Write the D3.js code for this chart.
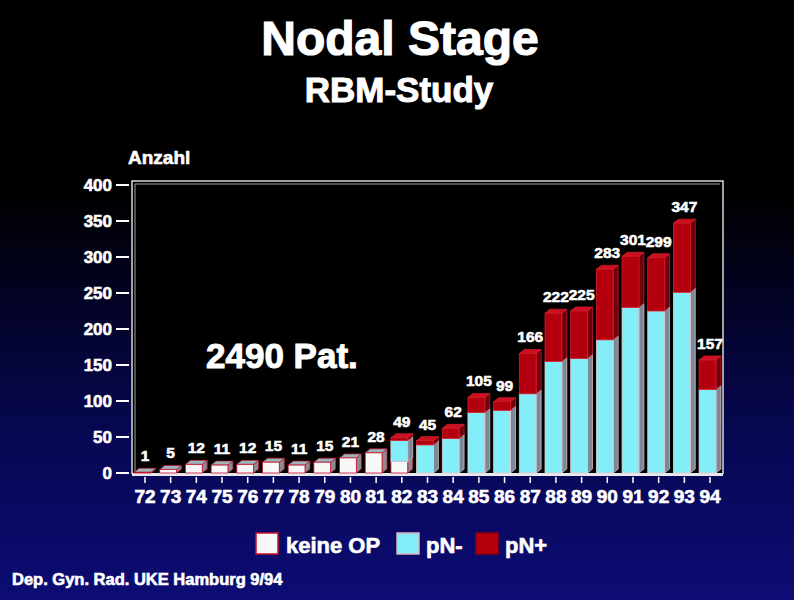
<!DOCTYPE html>
<html>
<head>
<meta charset="utf-8">
<script src="https://cdn.jsdelivr.net/npm/d3@7"></script>
<style>
  body { margin: 0; background: #000; }
  svg text { font-family: "Liberation Sans", Arial, sans-serif; font-weight: bold; fill: #fff;
             stroke: #fff; stroke-width: 0.6px; }
</style>
</head>
<body>
<svg id="chart" width="794" height="600"></svg>
<script>
// Nodal stage per year, RBM study
var years = ["72","73","74","75","76","77","78","79","80","81","82","83","84","85","86","87","88","89","90","91","92","93","94"];
var keineOP = [1, 5, 12, 11, 12, 15, 11, 15, 21, 28, 16, 0, 0, 0, 0, 0, 0, 0, 0, 0, 0, 0, 0];
var pNneg   = [0, 0, 0, 0, 0, 0, 0, 0, 0, 0, 29, 39, 48, 84, 87, 110, 155, 159, 185, 230, 225, 251, 116];
var pNpos   = [0, 0, 0, 0, 0, 0, 0, 0, 0, 0, 4, 6, 14, 21, 12, 56, 67, 66, 98, 71, 74, 96, 41];
var yTicks  = [0, 50, 100, 150, 200, 250, 300, 350, 400];

var series = [
    { name: "keine OP", values: keineOP, front: "#f8f8f8", side: "#8c8c94", top: "#9ab4bc", stroke: "#c8102a" },
    { name: "pN-",      values: pNneg,   front: "#84eef8", side: "#7c8898", top: "#9ccad4", stroke: "#e8c8d0" },
    { name: "pN+",      values: pNpos,   front: "#b4000e", side: "#70000c", top: "#cc1020", stroke: "#d0202c" }
];

var svg = d3.select("#chart");

// background: black fading into navy
var defs = svg.append("defs");
var grad = defs.append("linearGradient").attr("id", "bg").attr("x1", 0).attr("y1", 0).attr("x2", 0).attr("y2", 1);
grad.append("stop").attr("offset", "0%").attr("stop-color", "#000000");
grad.append("stop").attr("offset", "33%").attr("stop-color", "#000002");
grad.append("stop").attr("offset", "72%").attr("stop-color", "#070752");
grad.append("stop").attr("offset", "100%").attr("stop-color", "#0c0c74");
svg.append("rect").attr("width", 794).attr("height", 600).attr("fill", "url(#bg)");

var plotLeft = 132, plotRight = 723, plotTop = 183, plotBottom = 473;
var depth = 5;

var x = d3.scaleBand().domain(years).range([plotLeft, plotRight]).paddingInner(0.15).paddingOuter(0.08);
var y = d3.scaleLinear().domain([0, 400]).range([plotBottom, 185]);

// plot area
svg.append("rect").attr("x", plotLeft).attr("y", plotTop - 2)
    .attr("width", plotRight - plotLeft).attr("height", plotBottom - plotTop + 2)
    .attr("fill", "#000");
svg.append("path")
    .attr("d", "M" + plotLeft + "," + (plotBottom + 1) + "V" + (plotTop - 2) + "H" + plotRight + "V" + (plotBottom + 1))
    .attr("fill", "none").attr("stroke", "#d8d8d8").attr("stroke-width", 1.5);
svg.append("path")
    .attr("d", "M" + (plotLeft + 3) + "," + plotBottom + "V" + (plotTop + 1) + "H" + (plotRight - 3))
    .attr("fill", "none").attr("stroke", "#a0a0a0").attr("stroke-width", 1);
// floor
svg.append("rect").attr("x", plotLeft).attr("y", plotBottom).attr("width", plotRight - plotLeft).attr("height", 3)
    .attr("fill", "#e8e8ee");

// y axis ticks and labels
var yAxis = svg.append("g");
yAxis.selectAll("line").data(yTicks).enter().append("line")
    .attr("x1", 116).attr("x2", 129)
    .attr("y1", function (d) { return y(d); }).attr("y2", function (d) { return y(d); })
    .attr("stroke", "#fff").attr("stroke-width", 2);
yAxis.selectAll("text").data(yTicks).enter().append("text")
    .attr("x", 112).attr("y", function (d) { return y(d) + 6; })
    .attr("text-anchor", "end").attr("font-size", 17)
    .text(function (d) { return d; });

svg.append("text").attr("x", 128).attr("y", 164).attr("font-size", 19).text("Anzahl");

// x axis ticks and labels
var xAxis = svg.append("g");
xAxis.selectAll("line").data(years).enter().append("line")
    .attr("x1", function (d) { return x(d) + x.bandwidth() / 2; })
    .attr("x2", function (d) { return x(d) + x.bandwidth() / 2; })
    .attr("y1", 477).attr("y2", 483)
    .attr("stroke", "#fff").attr("stroke-width", 1.5);
xAxis.selectAll("text").data(years).enter().append("text")
    .attr("x", function (d) { return x(d) + x.bandwidth() / 2; })
    .attr("y", 503).attr("text-anchor", "middle").attr("font-size", 19)
    .text(function (d) { return d; });

// 3D stacked bars
var fw = x.bandwidth() - depth;
var bars = svg.append("g");
years.forEach(function (yr, i) {
    var base = 0;
    series.forEach(function (s) {
        var v = s.values[i];
        if (v <= 0) return;
        var x0 = x(yr), x1 = x0 + fw;
        var y0 = y(base), y1 = y(base + v);
        var g = bars.append("g");
        // right side face
        g.append("path")
            .attr("d", "M" + x1 + "," + y0 + "L" + (x1 + depth) + "," + (y0 - depth + 1) +
                  "L" + (x1 + depth) + "," + (y1 - depth + 1) + "L" + x1 + "," + y1 + "Z")
            .attr("fill", s.side).attr("stroke", s.stroke).attr("stroke-width", 0.7);
        // top face
        g.append("path")
            .attr("d", "M" + x0 + "," + y1 + "L" + (x0 + depth) + "," + (y1 - depth + 1) +
                  "L" + (x1 + depth) + "," + (y1 - depth + 1) + "L" + x1 + "," + y1 + "Z")
            .attr("fill", s.top).attr("stroke", s.stroke).attr("stroke-width", 0.7);
        // front face
        g.append("rect").attr("x", x0).attr("y", y1).attr("width", fw).attr("height", y0 - y1)
            .attr("fill", s.front).attr("stroke", s.stroke).attr("stroke-width", 0.8);
        base += v;
    });
});

// totals above bars
bars.selectAll("text.total").data(years).enter().append("text")
    .attr("class", "total")
    .attr("x", function (d) { return x(d) + x.bandwidth() / 2; })
    .attr("y", function (d, i) { return y(keineOP[i] + pNneg[i] + pNpos[i]) - 11; })
    .attr("text-anchor", "middle").attr("font-size", 15.5)
    .text(function (d, i) { return keineOP[i] + pNneg[i] + pNpos[i]; });

// titles
svg.append("text").attr("x", 400).attr("y", 55).attr("text-anchor", "middle").attr("font-size", 48)
    .style("stroke-width", "1.2px").text("Nodal Stage");
svg.append("text").attr("x", 399).attr("y", 102).attr("text-anchor", "middle").attr("font-size", 35)
    .style("stroke-width", "1px").text("RBM-Study");
svg.append("text").attr("x", 206).attr("y", 368).attr("font-size", 35)
    .style("stroke-width", "1px").text("2490 Pat.");

// legend
var legendItems = [
    { label: "keine OP", color: series[0].front, border: series[0].stroke, x: 256, tx: 286 },
    { label: "pN-",      color: series[1].front, border: "#d8b0c0",        x: 397, tx: 426 },
    { label: "pN+",      color: series[2].front, border: "#900010",        x: 476, tx: 505 }
];
var legend = svg.append("g");
legendItems.forEach(function (d) {
    legend.append("rect").attr("x", d.x).attr("y", 533).attr("width", 22).attr("height", 21)
        .attr("fill", d.color).attr("stroke", d.border).attr("stroke-width", 1.5);
    legend.append("text").attr("x", d.tx).attr("y", 553).attr("font-size", 22).text(d.label);
});

svg.append("text").attr("x", 12).attr("y", 585).attr("font-size", 16.5)
    .text("Dep. Gyn. Rad. UKE Hamburg 9/94");
</script>
</body>
</html>
